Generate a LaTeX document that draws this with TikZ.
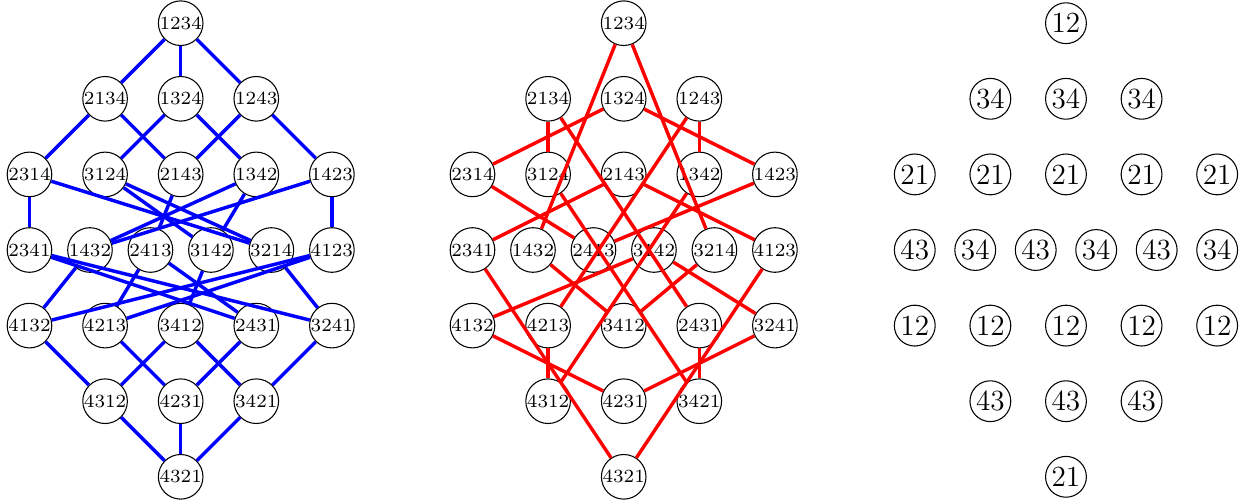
\documentclass[tikz,border=0pt]{standalone}
\usepackage{fontspec}
\begin{document}
\begin{tikzpicture}[
  pn/.style={circle,draw,line width=0.4pt,inner sep=0pt,minimum size=0.59cm,font=\scriptsize},
  ln/.style={circle,draw,line width=0.4pt,inner sep=0pt,minimum size=0.54cm,font=\fontsize{11}{13}\selectfont},
  be/.style={draw=blue,line width=1.3pt},
  re/.style={draw=red,line width=1.3pt}]
\useasboundingbox (-2.39,-3.32) rectangle (14.065,3.307);
\foreach \p/\x/\y in {1234/0/3, 2134/-1/2, 1324/0/2, 1243/1/2,
  2314/-2/1, 3124/-1/1, 2143/0/1, 1342/1/1, 1423/2/1,
  2341/-2/0, 1432/-1.2/0, 2413/-0.4/0, 3142/0.4/0, 3214/1.2/0, 4123/2/0,
  4132/-2/-1, 4213/-1/-1, 3412/0/-1, 2431/1/-1, 3241/2/-1,
  4312/-1/-2, 4231/0/-2, 3421/1/-2, 4321/0/-3}
{
  \node[pn] (b\p) at (\x,\y) {\p};
  \node[pn] (r\p) at (\x+5.86,\y) {\p};
}
% blue: right weak order
\foreach \a/\b in {1234/2134, 1234/1324, 1234/1243,
  2134/2314, 2134/2143, 1324/3124, 1324/1342, 1243/2143, 1243/1423,
  2314/2341, 2314/3214, 3124/3214, 3124/3142, 2143/2413, 1342/3142, 1342/1432, 1423/4123, 1423/1432,
  2341/3241, 2341/2431, 1432/4132, 2413/4213, 2413/2431, 3142/3412, 3214/3241, 4123/4213, 4123/4132,
  4132/4312, 4213/4231, 3412/4312, 3412/3421, 2431/4231, 3241/3421,
  4312/4321, 4231/4321, 3421/4321}
{ \draw[be] (b\a) -- (b\b); }
% red
\foreach \a/\b in {1234/3214, 1234/1432,
  2134/3124, 2134/2431, 1324/2314, 1324/1423, 1243/4213, 1243/1342,
  2314/2413, 3124/3421, 2143/4123, 2143/2341, 1342/4312, 1423/2413,
  2341/4321, 1432/3412, 3142/4132, 3142/3241, 3214/3412, 4123/4321,
  4132/4231, 4213/4312, 2431/3421, 3241/4231}
{ \draw[re] (r\a) -- (r\b); }
% right panel labels
\foreach \l/\x/\y [count=\i] in {12/0/3, 34/-1/2, 34/0/2, 34/1/2,
  21/-2/1, 21/-1/1, 21/0/1, 21/1/1, 21/2/1,
  43/-2/0, 34/-1.2/0, 43/-0.4/0, 34/0.4/0, 43/1.2/0, 34/2/0,
  12/-2/-1, 12/-1/-1, 12/0/-1, 12/1/-1, 12/2/-1,
  43/-1/-2, 43/0/-2, 43/1/-2, 21/0/-3}
{ \node[ln] (t\i) at (\x+11.71,\y) {\l}; }
\end{tikzpicture}
\end{document}
